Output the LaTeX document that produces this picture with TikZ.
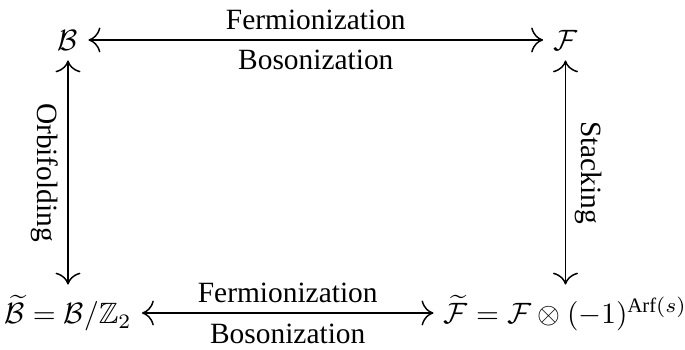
\documentclass[tikz,border=0pt]{standalone}
\usepackage{amsmath}
\usepackage{amssymb}
\usepackage[no-math]{fontspec}
\setmainfont{Liberation Serif}
\usetikzlibrary{positioning,arrows.meta}
\tikzset{
  %% Theories
  theory/.style={inner sep=3.33pt},
  %% Correspondences
  corr/.style={{Computer Modern Rightarrow[scale=1.5]}-{Computer Modern Rightarrow[scale=1.5]}, line width=0.5pt},
  %% Side labels of vertical maps
  vlbl/.style={rotate=-90, inner sep=3pt},
}

\begin{document}
\begin{tikzpicture}[x=0.34pt, y=-0.34pt]
\useasboundingbox (0,0) rectangle (685,350);
%% Theories (corners of the square)
\node[theory] (pB)  at (68,40)    {$\mathcal{B}$};
\node[theory] (pF)  at (565.5,40) {$\mathcal{F}$};
\node[theory] (pBt) at (68,313)   {$\widetilde{\mathcal{B}}=\mathcal{B}/\mathbb{Z}_2$};
\node[theory] (pFt) at (565.5,313) {$\widetilde{\mathcal{F}}=\mathcal{F}\otimes(-1)^{\text{Arf}(s)}$};

%% Maps
\draw[corr] (pB) -- node[above]{Fermionization} node[below]{Bosonization} (pF);
\draw[corr] (pBt) -- node[above]{Fermionization} node[below]{Bosonization} (pFt);
\draw[corr] (pB) -- node[vlbl, anchor=north]{Orbifolding} (pBt);
\draw[corr] (pF) -- node[vlbl, anchor=south]{Stacking} (pFt);

\end{tikzpicture}
\end{document}
